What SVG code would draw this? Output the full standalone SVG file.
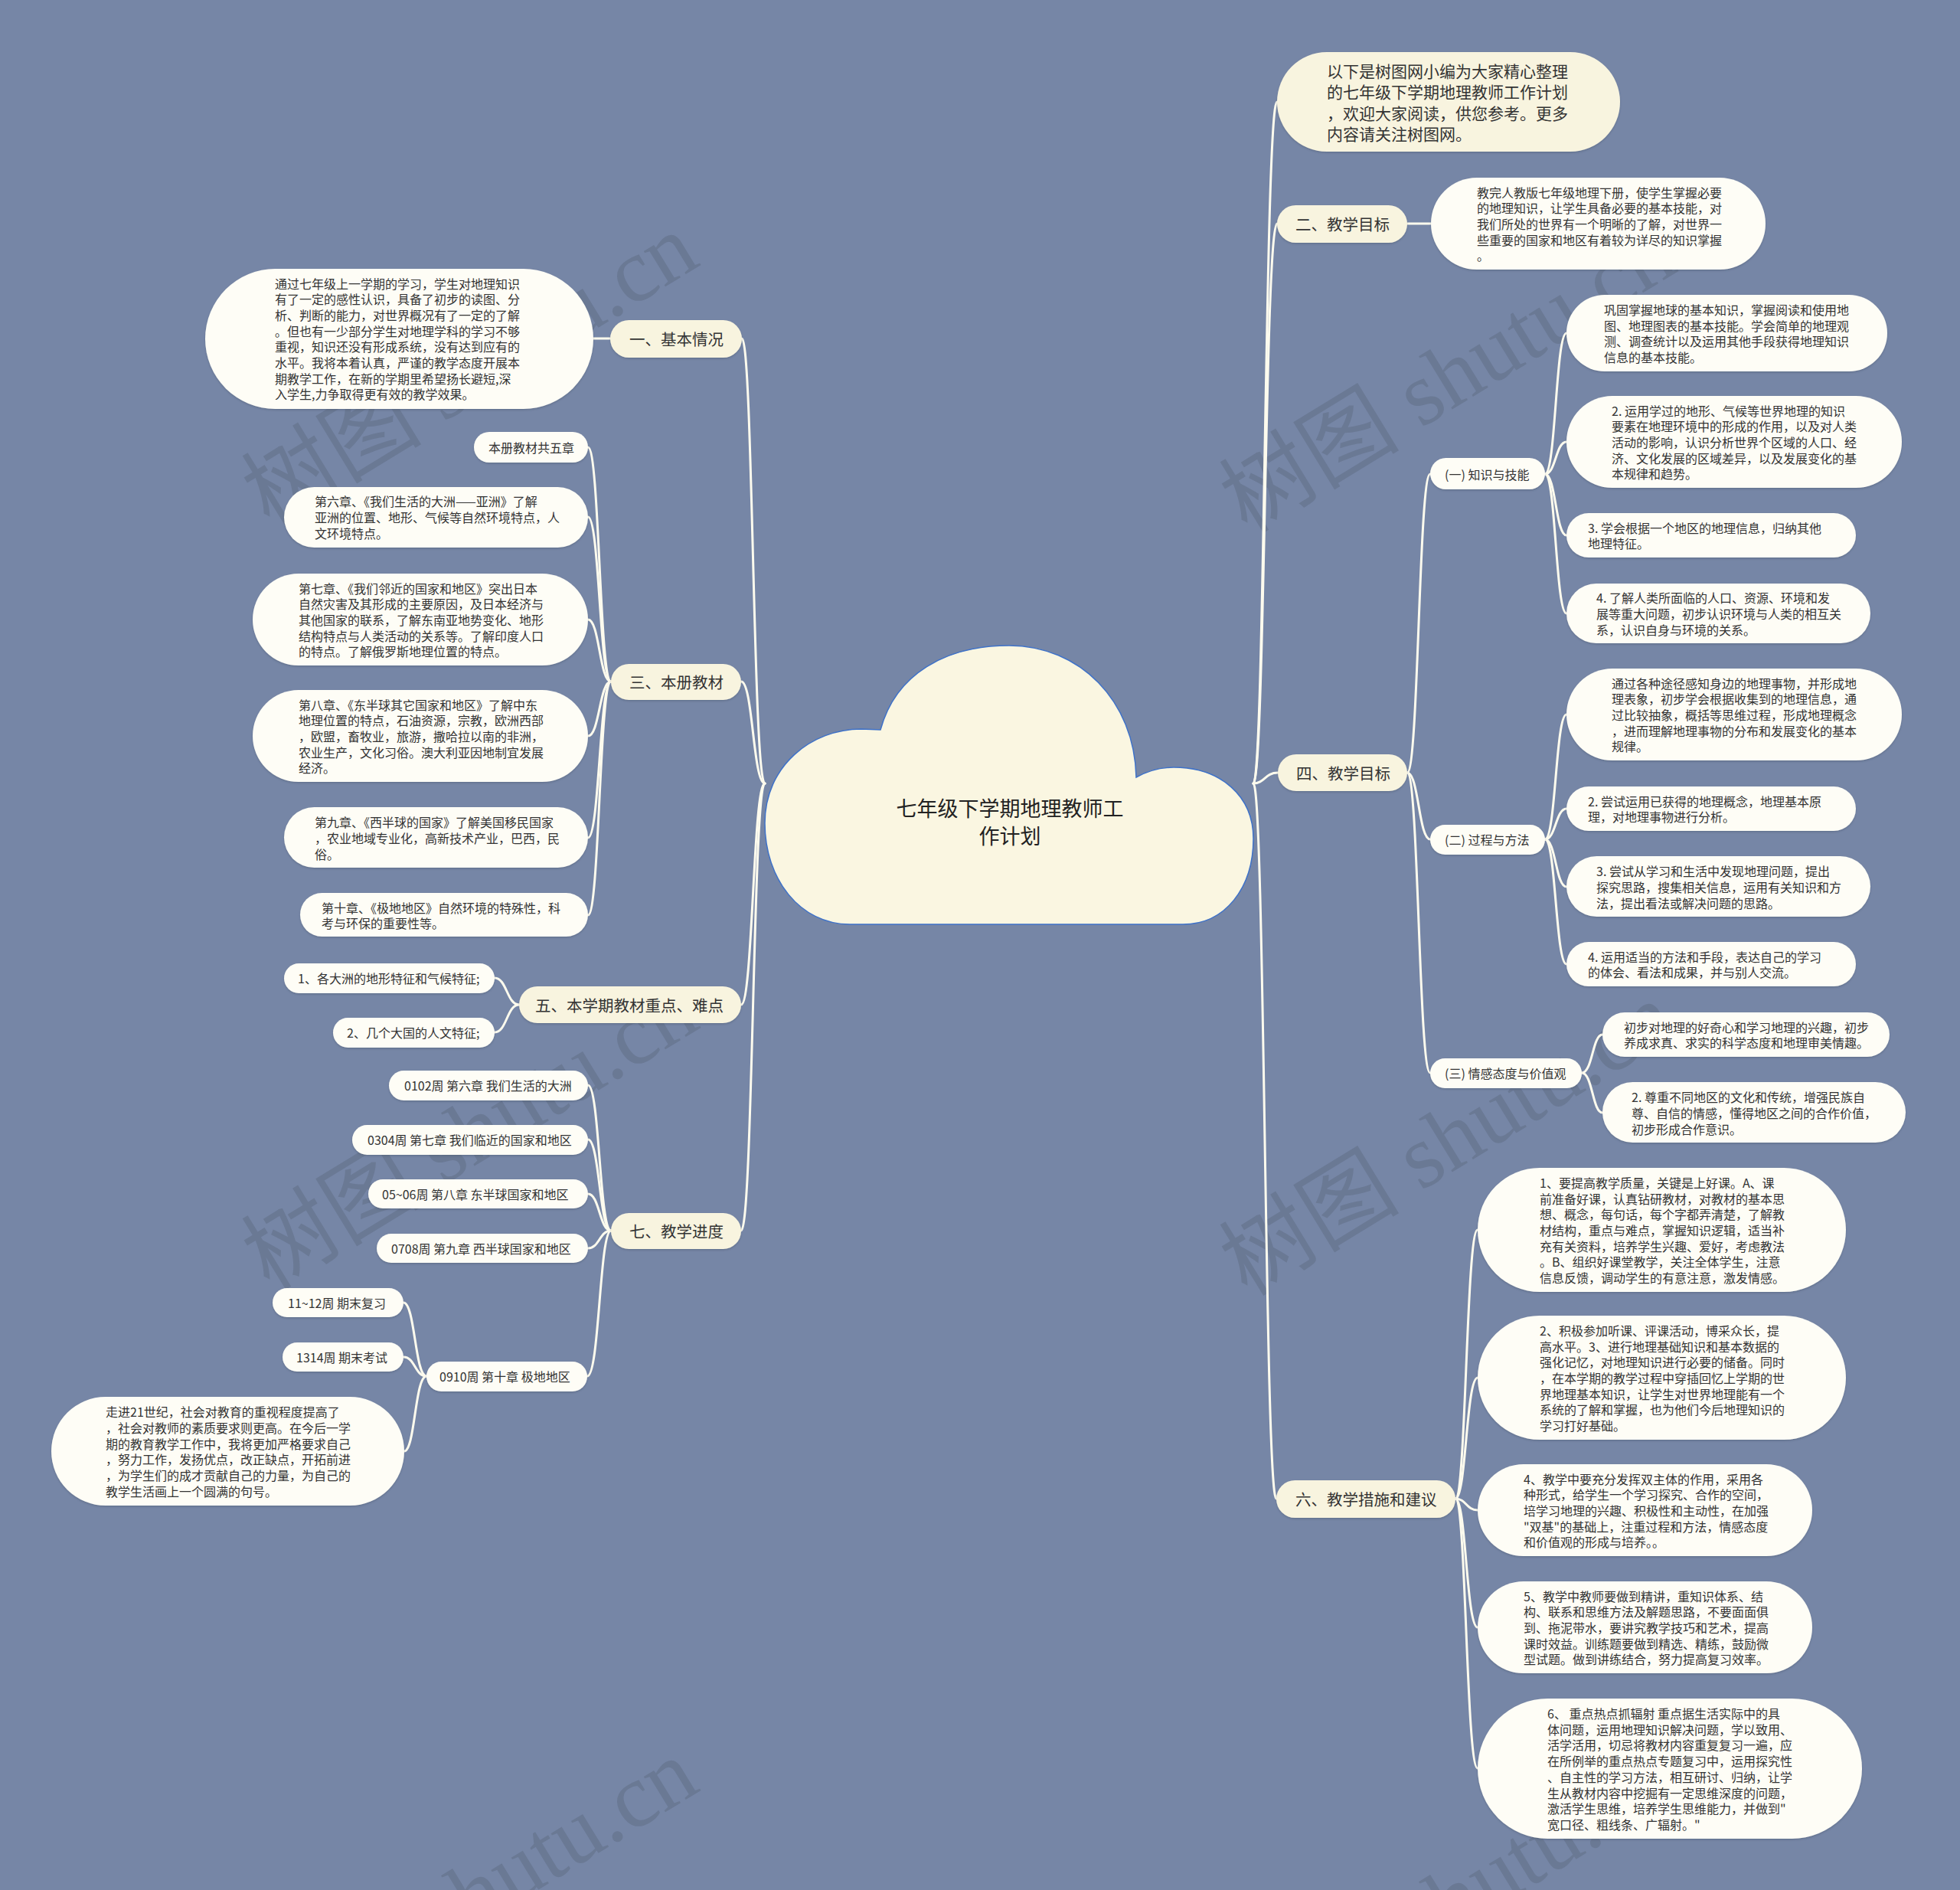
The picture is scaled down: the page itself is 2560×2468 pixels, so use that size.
<svg xmlns="http://www.w3.org/2000/svg" width="2560" height="2468" viewBox="0 0 2560 2468">
<defs>
<style>
.n1{fill:#f8f4df;filter:url(#sh)}
.lf{fill:#fefdf6;filter:url(#sh)}
text{font-family:"Noto Sans CJK SC","Noto Sans",sans-serif;fill:#333;dominant-baseline:central}
.t16{font-size:16px}
.t20{font-size:20.5px}
.t21{font-size:21px}
.ttl{font-size:27px;fill:#222;text-anchor:middle}
.c{fill:none;stroke:#fdfbee;stroke-width:3;stroke-linecap:round}
.wm{font-family:"Liberation Serif","Noto Sans CJK SC",serif;font-size:118px;fill:#3e4452;fill-opacity:0.2;dominant-baseline:auto}
</style>
<filter id="sh" x="-10%" y="-20%" width="120%" height="140%"><feDropShadow dx="0" dy="1.5" stdDeviation="1.2" flood-color="#3b4660" flood-opacity="0.35"/></filter>
</defs>
<rect width="2560" height="2468" fill="#7686a6"/>

<g id="watermarks">
<text class="wm" x="352" y="690" transform="rotate(-31.4 352 690)">树图 shutu.cn</text>
<text class="wm" x="1629" y="698" transform="rotate(-31.4 1629 698)">树图 shutu.cn</text>
<text class="wm" x="352" y="1686" transform="rotate(-31.4 352 1686)">树图 shutu.cn</text>
<text class="wm" x="1629" y="1694" transform="rotate(-31.4 1629 1694)">树图 shutu.cn</text>
<text class="wm" x="352" y="2682" transform="rotate(-31.4 352 2682)">树图 shutu.cn</text>
<text class="wm" x="1629" y="2690" transform="rotate(-31.4 1629 2690)">树图 shutu.cn</text>
</g>

<g id="connectors">
<path class="c" d="M999 1023 C983.5 1023,983.5 442,969 442"/>
<path class="c" d="M999 1023 C983.5 1023,983.5 890,968 890"/>
<path class="c" d="M999 1023 C983.5 1023,983.5 1312,968 1312"/>
<path class="c" d="M999 1023 C983.5 1023,983.5 1607,968 1607"/>
<path class="c" d="M1637 1023 C1652 1023,1652 133,1668 133"/>
<path class="c" d="M1637 1023 C1652 1023,1652 292,1668 292"/>
<path class="c" d="M1637 1023 C1652 1023,1652 1009,1669 1009"/>
<path class="c" d="M1637 1023 C1652 1023,1652 1957,1667 1957"/>
<path class="c" d="M1838 292 L1869 292"/>
<path class="c" d="M1838 1009 C1853 1009,1853 619,1868 619"/>
<path class="c" d="M1838 1009 C1853 1009,1853 1096,1868 1096"/>
<path class="c" d="M1838 1009 C1853 1009,1853 1401,1868 1401"/>
<path class="c" d="M2018 619 C2032 619,2032 435,2046 435"/>
<path class="c" d="M2018 619 C2032 619,2032 577,2046 577"/>
<path class="c" d="M2018 619 C2032 619,2032 699,2046 699"/>
<path class="c" d="M2018 619 C2032 619,2032 801,2046 801"/>
<path class="c" d="M2018 1096 C2032 1096,2032 933,2046 933"/>
<path class="c" d="M2018 1096 C2032 1096,2032 1056,2046 1056"/>
<path class="c" d="M2018 1096 C2032 1096,2032 1158,2046 1158"/>
<path class="c" d="M2018 1096 C2032 1096,2032 1259,2046 1259"/>
<path class="c" d="M2066 1401 C2080 1401,2080 1351,2093 1351"/>
<path class="c" d="M2066 1401 C2080 1401,2080 1453,2093 1453"/>
<path class="c" d="M1901 1957 C1915 1957,1915 1606,1930 1606"/>
<path class="c" d="M1901 1957 C1915 1957,1915 1799,1930 1799"/>
<path class="c" d="M1901 1957 C1915 1957,1915 1972,1930 1972"/>
<path class="c" d="M1901 1957 C1915 1957,1915 2125,1930 2125"/>
<path class="c" d="M1901 1957 C1915 1957,1915 2309,1930 2309"/>
<path class="c" d="M797 442 L775 442"/>
<path class="c" d="M798 890 C783 890,783 584,768 584"/>
<path class="c" d="M798 890 C783 890,783 675,768 675"/>
<path class="c" d="M798 890 C783 890,783 809,768 809"/>
<path class="c" d="M798 890 C783 890,783 961,768 961"/>
<path class="c" d="M798 890 C783 890,783 1094,768 1094"/>
<path class="c" d="M798 890 C783 890,783 1195,768 1195"/>
<path class="c" d="M678 1312 C662 1312,662 1277,646 1277"/>
<path class="c" d="M678 1312 C662 1312,662 1348,646 1348"/>
<path class="c" d="M798 1607 C783 1607,783 1417,768 1417"/>
<path class="c" d="M798 1607 C783 1607,783 1488,768 1488"/>
<path class="c" d="M798 1607 C783 1607,783 1559,768 1559"/>
<path class="c" d="M798 1607 C783 1607,783 1630,768 1630"/>
<path class="c" d="M798 1607 C783 1607,783 1797,767 1797"/>
<path class="c" d="M557 1797 C542 1797,542 1701,527 1701"/>
<path class="c" d="M557 1797 C542 1797,542 1772,527 1772"/>
<path class="c" d="M557 1797 C542 1797,542 1895,528 1895"/>
</g>

<g id="center">
<path d="M1150 953 C1170 880,1235 843,1318 843 C1410 843,1482 915,1484 1015 C1500 1006,1515 1002,1533 1002 C1595 1002,1637 1040,1637 1095 C1637 1160,1600 1207,1545 1207 L1110 1207 C1045 1207,999 1148,999 1075 C999 1000,1060 952,1125 952 L1150 953 Z" fill="#faf6e1" stroke="#3f72c8" stroke-width="1.5"/>
<text class="ttl"><tspan x="1319" y="1054">七年级下学期地理教师工</tspan><tspan x="1319" y="1090">作计划</tspan></text>
</g>

<g id="intro">
<rect class="n1" x="1668" y="68" width="448" height="130" rx="65"/>
<text class="t21"><tspan x="1733" y="92">以下是树图网小编为大家精心整理</tspan><tspan x="1733" y="119.4">的七年级下学期地理教师工作计划</tspan><tspan x="1733" y="146.7">，欢迎大家阅读，供您参考。更多</tspan><tspan x="1733" y="174">内容请关注树图网。</tspan></text>
</g>

<g id="n-er">
<rect class="n1" x="1668" y="268" width="170" height="49" rx="24.5"/>
<text class="t20" x="1692" y="292">二、教学目标</text>
</g>
<g id="n-er-1">
<rect class="lf" x="1869" y="232" width="437" height="120" rx="60"/>
<text class="t16"><tspan x="1929" y="250.6">教完人教版七年级地理下册，使学生掌握必要</tspan><tspan x="1929" y="271.3">的地理知识，让学生具备必要的基本技能，对</tspan><tspan x="1929" y="292">我们所处的世界有一个明晰的了解，对世界一</tspan><tspan x="1929" y="312.7">些重要的国家和地区有着较为详尽的知识掌握</tspan><tspan x="1929" y="333.4">。</tspan></text>
</g>

<g id="n-si">
<rect class="n1" x="1669" y="985" width="169" height="48" rx="24"/>
<text class="t20" x="1693" y="1009">四、教学目标</text>
</g>
<g id="n-si-1">
<rect class="lf" x="1868" y="598" width="150" height="41" rx="20.5"/>
<text class="t16" x="1887" y="619">(一) 知识与技能</text>
</g>
<g id="n-si-1-1">
<rect class="lf" x="2046" y="385" width="419" height="100" rx="50"/>
<text class="t16"><tspan x="2095" y="404">巩固掌握地球的基本知识，掌握阅读和使用地</tspan><tspan x="2095" y="424.6">图、地理图表的基本技能。学会简单的地理观</tspan><tspan x="2095" y="445.4">测、调查统计以及运用其他手段获得地理知识</tspan><tspan x="2095" y="466">信息的基本技能。</tspan></text>
</g>
<g id="n-si-1-2">
<rect class="lf" x="2046" y="517" width="438" height="120" rx="60"/>
<text class="t16"><tspan x="2105" y="535.6">2. 运用学过的地形、气候等世界地理的知识</tspan><tspan x="2105" y="556.3">要素在地理环境中的形成的作用，以及对人类</tspan><tspan x="2105" y="577">活动的影响，认识分析世界个区域的人口、经</tspan><tspan x="2105" y="597.7">济、文化发展的区域差异，以及发展变化的基</tspan><tspan x="2105" y="618.4">本规律和趋势。</tspan></text>
</g>
<g id="n-si-1-3">
<rect class="lf" x="2046" y="670" width="378" height="58" rx="29"/>
<text class="t16"><tspan x="2074" y="688.6">3. 学会根据一个地区的地理信息，归纳其他</tspan><tspan x="2074" y="709.4">地理特征。</tspan></text>
</g>
<g id="n-si-1-4">
<rect class="lf" x="2046" y="762" width="397" height="78" rx="39"/>
<text class="t16"><tspan x="2085" y="780.3">4. 了解人类所面临的人口、资源、环境和发</tspan><tspan x="2085" y="801">展等重大问题，初步认识环境与人类的相互关</tspan><tspan x="2085" y="821.7">系，认识自身与环境的关系。</tspan></text>
</g>

<g id="n-si-2">
<rect class="lf" x="1868" y="1077" width="150" height="39" rx="19.5"/>
<text class="t16" x="1887" y="1096">(二) 过程与方法</text>
</g>
<g id="n-si-2-1">
<rect class="lf" x="2046" y="873" width="438" height="120" rx="60"/>
<text class="t16"><tspan x="2105" y="891.6">通过各种途径感知身边的地理事物，并形成地</tspan><tspan x="2105" y="912.3">理表象，初步学会根据收集到的地理信息，通</tspan><tspan x="2105" y="933">过比较抽象，概括等思维过程，形成地理概念</tspan><tspan x="2105" y="953.7">，进而理解地理事物的分布和发展变化的基本</tspan><tspan x="2105" y="974.4">规律。</tspan></text>
</g>
<g id="n-si-2-2">
<rect class="lf" x="2046" y="1027" width="378" height="58" rx="29"/>
<text class="t16"><tspan x="2074" y="1045.6">2. 尝试运用已获得的地理概念，地理基本原</tspan><tspan x="2074" y="1066.4">理，对地理事物进行分析。</tspan></text>
</g>
<g id="n-si-2-3">
<rect class="lf" x="2046" y="1118" width="397" height="79" rx="39.5"/>
<text class="t16"><tspan x="2085" y="1137.3">3. 尝试从学习和生活中发现地理问题，提出</tspan><tspan x="2085" y="1158">探究思路，搜集相关信息，运用有关知识和方</tspan><tspan x="2085" y="1178.7">法，提出看法或解决问题的思路。</tspan></text>
</g>
<g id="n-si-2-4">
<rect class="lf" x="2046" y="1230" width="378" height="58" rx="29"/>
<text class="t16"><tspan x="2074" y="1248.6">4. 运用适当的方法和手段，表达自己的学习</tspan><tspan x="2074" y="1269.4">的体会、看法和成果，并与别人交流。</tspan></text>
</g>

<g id="n-si-3">
<rect class="lf" x="1868" y="1382" width="198" height="39" rx="19.5"/>
<text class="t16" x="1887" y="1401">(三) 情感态度与价值观</text>
</g>
<g id="n-si-3-1">
<rect class="lf" x="2093" y="1322" width="375" height="58" rx="29"/>
<text class="t16"><tspan x="2121" y="1340.6">初步对地理的好奇心和学习地理的兴趣，初步</tspan><tspan x="2121" y="1361.4">养成求真、求实的科学态度和地理审美情趣。</tspan></text>
</g>
<g id="n-si-3-2">
<rect class="lf" x="2093" y="1413" width="396" height="79" rx="39.5"/>
<text class="t16"><tspan x="2131" y="1432.3">2. 尊重不同地区的文化和传统，增强民族自</tspan><tspan x="2131" y="1453">尊、自信的情感，懂得地区之间的合作价值，</tspan><tspan x="2131" y="1473.7">初步形成合作意识。</tspan></text>
</g>

<g id="n-liu">
<rect class="n1" x="1667" y="1933" width="234" height="49" rx="24.5"/>
<text class="t20" x="1692" y="1957">六、教学措施和建议</text>
</g>
<g id="n-liu-1">
<rect class="lf" x="1930" y="1525" width="481" height="162" rx="81"/>
<text class="t16"><tspan x="2011" y="1543.9">1、要提高教学质量，关键是上好课。A、课</tspan><tspan x="2011" y="1564.6">前准备好课，认真钻研教材，对教材的基本思</tspan><tspan x="2011" y="1585.3">想、概念，每句话，每个字都弄清楚，了解教</tspan><tspan x="2011" y="1606">材结构，重点与难点，掌握知识逻辑，适当补</tspan><tspan x="2011" y="1626.7">充有关资料，培养学生兴趣、爱好，考虑教法</tspan><tspan x="2011" y="1647.4">。B、组织好课堂教学，关注全体学生，注意</tspan><tspan x="2011" y="1668.1">信息反馈，调动学生的有意注意，激发情感。</tspan></text>
</g>
<g id="n-liu-2">
<rect class="lf" x="1930" y="1718" width="481" height="162" rx="81"/>
<text class="t16"><tspan x="2011" y="1736.9">2、积极参加听课、评课活动，博采众长，提</tspan><tspan x="2011" y="1757.6">高水平。3、进行地理基础知识和基本数据的</tspan><tspan x="2011" y="1778.3">强化记忆，对地理知识进行必要的储备。同时</tspan><tspan x="2011" y="1799">，在本学期的教学过程中穿插回忆上学期的世</tspan><tspan x="2011" y="1819.7">界地理基本知识，让学生对世界地理能有一个</tspan><tspan x="2011" y="1840.4">系统的了解和掌握，也为他们今后地理知识的</tspan><tspan x="2011" y="1861.1">学习打好基础。</tspan></text>
</g>
<g id="n-liu-3">
<rect class="lf" x="1930" y="1912" width="437" height="120" rx="60"/>
<text class="t16"><tspan x="1990" y="1930.6">4、教学中要充分发挥双主体的作用，采用各</tspan><tspan x="1990" y="1951.3">种形式，给学生一个学习探究、合作的空间，</tspan><tspan x="1990" y="1972">培学习地理的兴趣、积极性和主动性，在加强</tspan><tspan x="1990" y="1992.7">"双基"的基础上，注重过程和方法，情感态度</tspan><tspan x="1990" y="2013.4">和价值观的形成与培养。。</tspan></text>
</g>
<g id="n-liu-4">
<rect class="lf" x="1930" y="2065" width="437" height="120" rx="60"/>
<text class="t16"><tspan x="1990" y="2083.6">5、教学中教师要做到精讲，重知识体系、结</tspan><tspan x="1990" y="2104.3">构、联系和思维方法及解题思路，不要面面俱</tspan><tspan x="1990" y="2125">到、拖泥带水，要讲究教学技巧和艺术，提高</tspan><tspan x="1990" y="2145.7">课时效益。训练题要做到精选、精练，鼓励微</tspan><tspan x="1990" y="2166.4">型试题。做到讲练结合，努力提高复习效率。</tspan></text>
</g>
<g id="n-liu-5">
<rect class="lf" x="1930" y="2218" width="502" height="183" rx="91.5"/>
<text class="t16"><tspan x="2021" y="2237">6、 重点热点抓辐射 重点据生活实际中的具</tspan><tspan x="2021" y="2257.7">体问题，运用地理知识解决问题，学以致用、</tspan><tspan x="2021" y="2278.4">活学活用，切忌将教材内容重复复习一遍，应</tspan><tspan x="2021" y="2299.1">在所例举的重点热点专题复习中，运用探究性</tspan><tspan x="2021" y="2319.8">、自主性的学习方法，相互研讨、归纳，让学</tspan><tspan x="2021" y="2340.5">生从教材内容中挖掘有一定思维深度的问题，</tspan><tspan x="2021" y="2361.2">激活学生思维，培养学生思维能力，并做到"</tspan><tspan x="2021" y="2382">宽口径、粗线条、广辐射。"</tspan></text>
</g>

<g id="n-yi">
<rect class="n1" x="797" y="418" width="172" height="49" rx="24.5"/>
<text class="t20" x="822" y="442">一、基本情况</text>
</g>
<g id="n-yi-1">
<rect class="lf" x="268" y="351" width="507" height="183" rx="91.5"/>
<text class="t16"><tspan x="359" y="369.5">通过七年级上一学期的学习，学生对地理知识</tspan><tspan x="359" y="390.2">有了一定的感性认识，具备了初步的读图、分</tspan><tspan x="359" y="410.9">析、判断的能力，对世界概况有了一定的了解</tspan><tspan x="359" y="431.6">。但也有一少部分学生对地理学科的学习不够</tspan><tspan x="359" y="452.3">重视，知识还没有形成系统，没有达到应有的</tspan><tspan x="359" y="473">水平。我将本着认真，严谨的教学态度开展本</tspan><tspan x="359" y="493.7">期教学工作，在新的学期里希望扬长避短,深</tspan><tspan x="359" y="514.4">入学生,力争取得更有效的教学效果。</tspan></text>
</g>

<g id="n-san">
<rect class="n1" x="798" y="867" width="170" height="47" rx="23.5"/>
<text class="t20" x="822" y="890">三、本册教材</text>
</g>
<g id="n-san-0">
<rect class="lf" x="619" y="564" width="149" height="40" rx="20"/>
<text class="t16" x="638" y="584">本册教材共五章</text>
</g>
<g id="n-san-1">
<rect class="lf" x="371" y="636" width="397" height="79" rx="39.5"/>
<text class="t16"><tspan x="411" y="654.3">第六章、《我们生活的大洲——亚洲》了解</tspan><tspan x="411" y="675">亚洲的位置、地形、气候等自然环境特点，人</tspan><tspan x="411" y="695.7">文环境特点。</tspan></text>
</g>
<g id="n-san-2">
<rect class="lf" x="330" y="749" width="438" height="120" rx="60"/>
<text class="t16"><tspan x="390" y="767.6">第七章、《我们邻近的国家和地区》突出日本</tspan><tspan x="390" y="788.3">自然灾害及其形成的主要原因，及日本经济与</tspan><tspan x="390" y="809">其他国家的联系，了解东南亚地势变化、地形</tspan><tspan x="390" y="829.7">结构特点与人类活动的关系等。了解印度人口</tspan><tspan x="390" y="850.4">的特点。了解俄罗斯地理位置的特点。</tspan></text>
</g>
<g id="n-san-3">
<rect class="lf" x="330" y="901" width="438" height="120" rx="60"/>
<text class="t16"><tspan x="390" y="919.6">第八章、《东半球其它国家和地区》了解中东</tspan><tspan x="390" y="940.3">地理位置的特点，石油资源，宗教，欧洲西部</tspan><tspan x="390" y="961">，欧盟，畜牧业，旅游，撒哈拉以南的非洲，</tspan><tspan x="390" y="981.7">农业生产，文化习俗。澳大利亚因地制宜发展</tspan><tspan x="390" y="1002.4">经济。</tspan></text>
</g>
<g id="n-san-4">
<rect class="lf" x="371" y="1054" width="397" height="79" rx="39.5"/>
<text class="t16"><tspan x="411" y="1073.3">第九章、《西半球的国家》了解美国移民国家</tspan><tspan x="411" y="1094">，农业地域专业化，高新技术产业，巴西，民</tspan><tspan x="411" y="1114.7">俗。</tspan></text>
</g>
<g id="n-san-5">
<rect class="lf" x="392" y="1166" width="376" height="57" rx="28.5"/>
<text class="t16"><tspan x="420" y="1184.6">第十章、《极地地区》自然环境的特殊性，科</tspan><tspan x="420" y="1205.4">考与环保的重要性等。</tspan></text>
</g>

<g id="n-wu">
<rect class="n1" x="678" y="1288" width="290" height="48" rx="24"/>
<text class="t20" x="699" y="1312">五、本学期教材重点、难点</text>
</g>
<g id="n-wu-1">
<rect class="lf" x="371" y="1258" width="275" height="39" rx="19.5"/>
<text class="t16" x="389" y="1277">1、各大洲的地形特征和气候特征;</text>
</g>
<g id="n-wu-2">
<rect class="lf" x="435" y="1329" width="211" height="39" rx="19.5"/>
<text class="t16" x="453" y="1348">2、几个大国的人文特征;</text>
</g>

<g id="n-qi">
<rect class="n1" x="798" y="1584" width="170" height="47" rx="23.5"/>
<text class="t20" x="822" y="1607">七、教学进度</text>
</g>
<g id="n-qi-1">
<rect class="lf" x="508" y="1398" width="260" height="39" rx="19.5"/>
<text class="t16" x="528" y="1417">0102周 第六章 我们生活的大洲</text>
</g>
<g id="n-qi-2">
<rect class="lf" x="460" y="1469" width="308" height="39" rx="19.5"/>
<text class="t16" x="480" y="1488">0304周 第七章 我们临近的国家和地区</text>
</g>
<g id="n-qi-3">
<rect class="lf" x="481" y="1540" width="287" height="38" rx="19"/>
<text class="t16" x="499" y="1559">05~06周 第八章 东半球国家和地区</text>
</g>
<g id="n-qi-4">
<rect class="lf" x="492" y="1611" width="276" height="38" rx="19"/>
<text class="t16" x="511" y="1630">0708周 第九章 西半球国家和地区</text>
</g>
<g id="n-qi-5">
<rect class="lf" x="557" y="1778" width="210" height="39" rx="19.5"/>
<text class="t16" x="574" y="1797">0910周 第十章 极地地区</text>
</g>
<g id="n-qi-5-1">
<rect class="lf" x="356" y="1682" width="171" height="38" rx="19"/>
<text class="t16" x="376" y="1701">11~12周 期末复习</text>
</g>
<g id="n-qi-5-2">
<rect class="lf" x="369" y="1753" width="158" height="38" rx="19"/>
<text class="t16" x="387" y="1772">1314周 期末考试</text>
</g>
<g id="n-qi-5-3">
<rect class="lf" x="67" y="1824" width="461" height="142" rx="71"/>
<text class="t16"><tspan x="138" y="1843.3">走进21世纪，社会对教育的重视程度提高了</tspan><tspan x="138" y="1864">，社会对教师的素质要求则更高。在今后一学</tspan><tspan x="138" y="1884.7">期的教育教学工作中，我将更加严格要求自己</tspan><tspan x="138" y="1905.4">，努力工作，发扬优点，改正缺点，开拓前进</tspan><tspan x="138" y="1926.1">，为学生们的成才贡献自己的力量，为自己的</tspan><tspan x="138" y="1946.8">教学生活画上一个圆满的句号。</tspan></text>
</g>
</svg>
